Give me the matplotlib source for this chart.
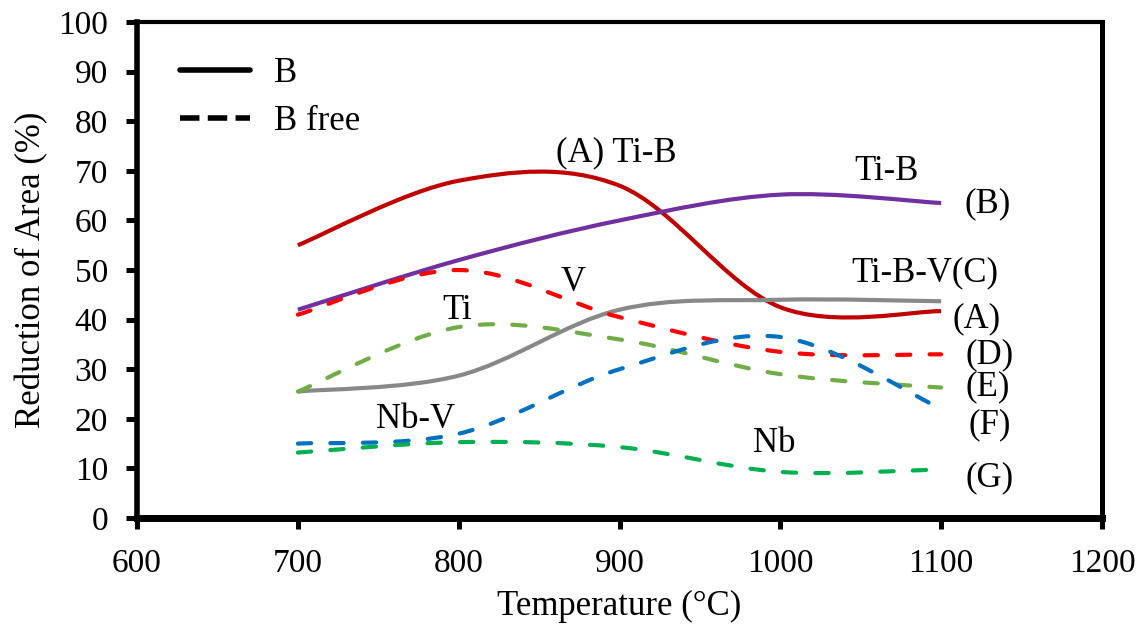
import matplotlib
matplotlib.use("Agg")
import matplotlib.pyplot as plt
from matplotlib.path import Path
from matplotlib.patches import PathPatch
from matplotlib.lines import Line2D

plt.rcParams['font.family'] = ['Liberation Serif', 'DejaVu Serif']

# 温度 (°C) 与各钢种的断面收缩率 (%)
temps = [700, 800, 900, 1000, 1100]
ra_A = [55, 68, 67, 42.5, 41.7]      # Ti-B
ra_B = [42, 52, 60, 65.2, 63.5]      # Ti-B
ra_C = [25.5, 28.7, 42, 44, 43.7]    # Ti-B-V
ra_D = [41, 50, 40.5, 33.5, 33]      # V
ra_E = [25.5, 38.5, 36, 29, 26.3]    # Ti
ra_F = [15, 17, 30, 36.5, 22]        # Nb-V
ra_G = [13.2, 15.3, 14.3, 9.3, 9.8]  # Nb

legend_labels = ['B', 'B free']


def smooth_path(xs, ys):
    """Excel 风格平滑曲线: 用三次贝塞尔连接各数据点"""
    n = len(xs)
    verts = [(xs[0], ys[0])]
    codes = [Path.MOVETO]
    for i in range(n - 1):
        x0, y0 = xs[max(i - 1, 0)], ys[max(i - 1, 0)]
        x1, y1 = xs[i], ys[i]
        x2, y2 = xs[i + 1], ys[i + 1]
        x3, y3 = xs[min(i + 2, n - 1)], ys[min(i + 2, n - 1)]
        verts += [(x1 + (x2 - x0) / 6, y1 + (y2 - y0) / 6),
                  (x2 - (x3 - x1) / 6, y2 - (y3 - y1) / 6),
                  (x2, y2)]
        codes += [Path.CURVE4] * 3
    return Path(verts, codes)


def add_curve(ax, ys, color, dashed=False):
    p = PathPatch(smooth_path(temps, ys), fill=False, edgecolor=color, lw=3.0)
    if dashed:
        p.set_linestyle((0, (3.2, 4.6)))
        p.set_capstyle('round')
    ax.add_patch(p)


fig = plt.figure(figsize=(11.43, 6.27), dpi=100)
ax = fig.add_axes([0.1199, 0.1738, 0.8442, 0.7911])

add_curve(ax, ra_A, '#C00000')
add_curve(ax, ra_B, '#7030A0')
add_curve(ax, ra_C, '#888888')
add_curve(ax, ra_D, '#FF0000', dashed=True)
add_curve(ax, ra_E, '#70AD47', dashed=True)
add_curve(ax, ra_F, '#0070C0', dashed=True)
add_curve(ax, ra_G, '#00B050', dashed=True)

ax.set_xlim(600, 1200)
ax.set_ylim(0, 100)
ax.set_xticks(range(600, 1201, 100))
ax.set_yticks(range(0, 101, 10))
ax.tick_params(axis='both', labelsize=24, length=8, width=3.6, pad=13, direction='out')
ax.tick_params(axis='x', pad=14)
ax.spines['left'].set_linewidth(4)
ax.spines['bottom'].set_linewidth(5)
ax.spines['top'].set_linewidth(3)
ax.spines['right'].set_linewidth(3.6)

ax.set_xlabel('Temperature (°C)', fontsize=25, labelpad=8)
ax.set_ylabel('Reduction of Area (%)', fontsize=25, labelpad=7)

# 曲线标注
fs = 25
ax.text(898, 73.7, '(A) Ti-B', fontsize=fs, ha='center', va='center')
ax.text(1066, 69.9, 'Ti-B', fontsize=fs, ha='center', va='center')
ax.text(1129, 63.3, '(B)', fontsize=fs, ha='center', va='center')
ax.text(1090, 49.4, 'Ti-B-V(C)', fontsize=fs, ha='center', va='center')
ax.text(1122, 40.2, '(A)', fontsize=fs, ha='center', va='center')
ax.text(1130, 32.9, '(D)', fontsize=fs, ha='center', va='center')
ax.text(1129, 26.5, '(E)', fontsize=fs, ha='center', va='center')
ax.text(1130, 18.7, '(F)', fontsize=fs, ha='center', va='center')
ax.text(1130, 8.2, '(G)', fontsize=fs, ha='center', va='center')
ax.text(996, 15.1, 'Nb', fontsize=fs, ha='center', va='center')
ax.text(773, 19.8, 'Nb-V', fontsize=fs, ha='center', va='center')
ax.text(799, 41.9, 'Ti', fontsize=fs, ha='center', va='center')
ax.text(871, 47.5, 'V', fontsize=fs, ha='center', va='center')

handles = [Line2D([], [], color='black', lw=4, solid_capstyle='round'),
           Line2D([], [], color='black', lw=4, dashes=(3.5, 1.5))]
ax.legend(handles, legend_labels, loc='upper left', bbox_to_anchor=(0.045, 0.93),
          frameon=False, fontsize=25, handlelength=2.0, handletextpad=0.7,
          labelspacing=0.45, borderpad=0, borderaxespad=0)

plt.savefig('out.png', dpi=100)
